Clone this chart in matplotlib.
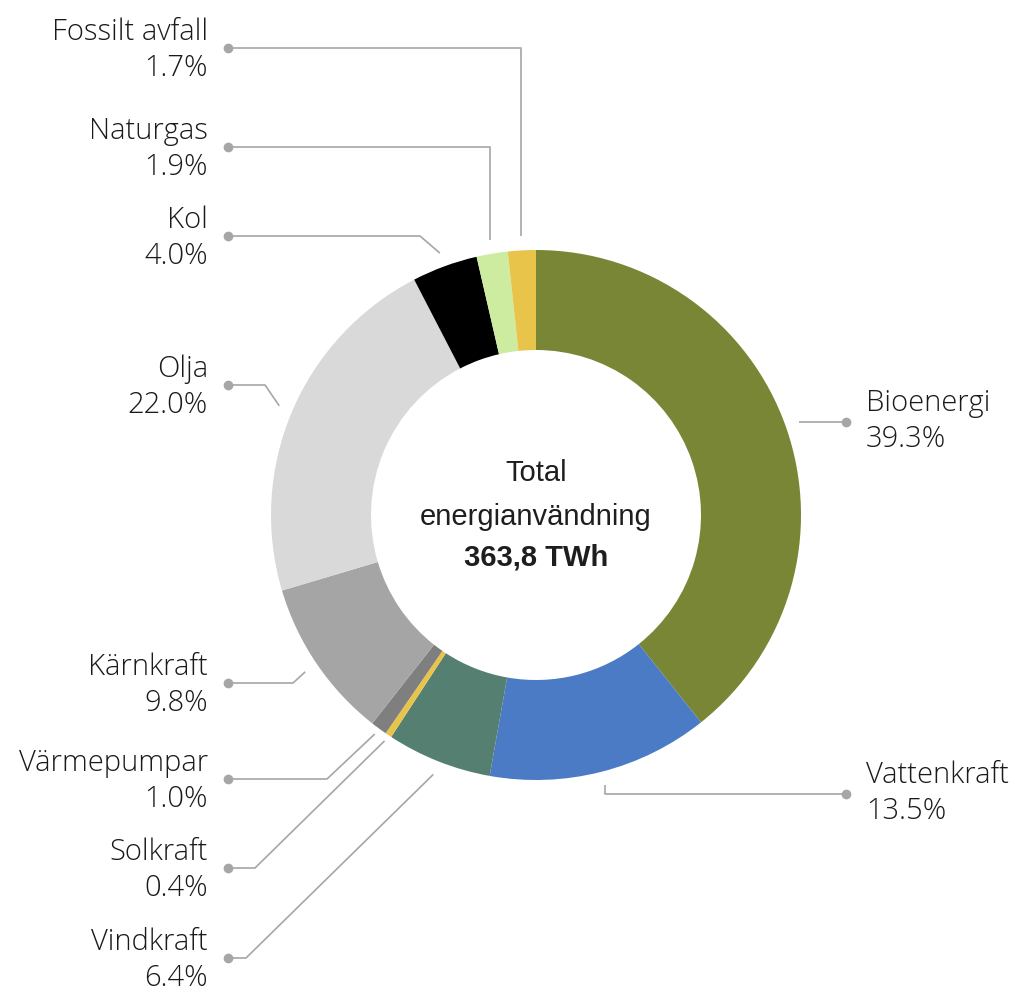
import numpy as np
import matplotlib
matplotlib.use("Agg")
import matplotlib.pyplot as plt

# data, clockwise from 12 o'clock
sources = ["Bioenergi", "Vattenkraft", "Vindkraft", "Solkraft", "Värmepumpar",
           "Kärnkraft", "Olja", "Kol", "Naturgas", "Fossilt avfall"]
shares = [39.3, 13.5, 6.4, 0.4, 1.0, 9.8, 22.0, 4.0, 1.9, 1.7]
total_twh = "363,8"
colors = ["#798636", "#4a7bc4", "#557f70", "#e8c44b", "#7f7f7f",
          "#a5a5a5", "#d9d9d9", "#000000", "#cdeca0", "#e8c44b"]

W, H = 1024, 999
cx, cy = 536, 515          # pixel coords, y from top
r_out, r_in = 265, 165


def Y(py):
    return H - py


# label layout: (dot x, dot y, elbow x or None, side)
layout = {
    "Fossilt avfall": (228, 48, None, "left"),
    "Naturgas": (228, 147, None, "left"),
    "Kol": (228, 236, 420, "left"),
    "Olja": (228, 385, 265, "left"),
    "Kärnkraft": (228, 683, 293, "left"),
    "Värmepumpar": (228, 779, 327, "left"),
    "Solkraft": (228, 868, 255, "left"),
    "Vindkraft": (228, 958, 246, "left"),
    "Bioenergi": (846, 422, None, "right"),
    "Vattenkraft": (846, 794, None, "right"),
}

fig = plt.figure(figsize=(W / 100, H / 100), dpi=100)
ax = fig.add_axes([0, 0, 1, 1])

ax.pie(shares, colors=colors, startangle=90, counterclock=False,
       radius=r_out, center=(cx, Y(cy)),
       wedgeprops=dict(width=r_out - r_in, linewidth=0))
ax.set_xlim(0, W)
ax.set_ylim(0, H)
ax.set_aspect("equal")
ax.axis("off")

line_c = "#a6a6a6"
lab_font = dict(fontsize=21, family="Open Sans", fontweight="light",
                color="#1a1a1a", linespacing=1.3)
cum = np.cumsum([0] + shares[:-1])
for name, v, c0 in zip(sources, shares, cum):
    theta = np.deg2rad(360 * (c0 + v / 2) / 100)
    rr = 272 if name in ("Solkraft", "Värmepumpar") else 279
    sx = cx + rr * np.sin(theta)
    sy = cy - rr * np.cos(theta)
    dx, dy, ex, side = layout[name]
    if side == "right":
        if abs(sy - dy) < 4:
            xs, ys = [sx, dx], [dy, dy]
        else:
            xs, ys = [sx, sx, dx], [sy, dy, dy]
    elif ex is None:
        xs, ys = [sx, sx, dx], [sy, dy, dy]
    else:
        xs, ys = [sx, ex, dx], [sy, dy, dy]
    ax.plot(xs, [Y(p) for p in ys], color=line_c, lw=1.2, solid_capstyle="butt")
    ax.plot(dx, Y(dy), "o", color=line_c, ms=7, mec="none")
    txt = f"{name}\n{v:.1f}%"
    if side == "left":
        ax.text(dx - 20, Y(dy + 2), txt, ha="right", va="center", ma="right", **lab_font)
    else:
        ax.text(dx + 20, Y(dy - 1), txt, ha="left", va="center", ma="left", **lab_font)

ctr_font = dict(fontsize=21, family="Liberation Sans", color="#1e1e1e")
ax.text(cx, Y(473), "Total", ha="center", va="center", **ctr_font)
ax.text(cx, Y(517), "energianvändning", ha="center", va="center", **ctr_font)
ax.text(cx, Y(558), f"{total_twh} TWh", ha="center", va="center",
        fontweight="bold", **ctr_font)

fig.savefig("out.png", dpi=100, facecolor="white")
